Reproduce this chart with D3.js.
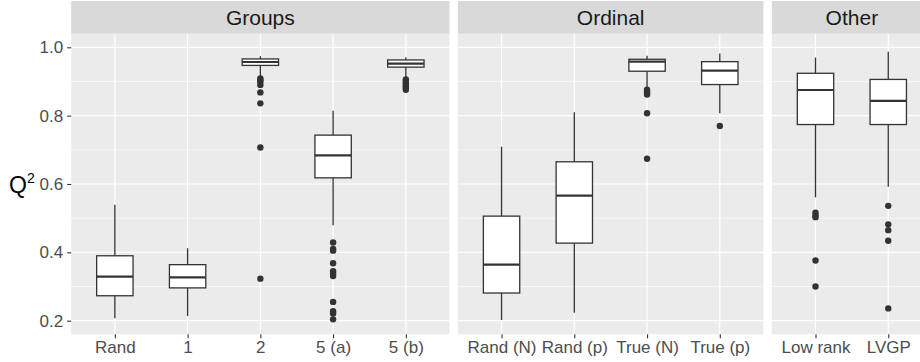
<!DOCTYPE html>
<html>
<head>
<meta charset="utf-8">
<script src="https://cdn.jsdelivr.net/npm/d3@7"></script>
<style>
  html, body { margin: 0; padding: 0; background: #ffffff; }
  svg { display: block; }
  text { font-family: "Liberation Sans", Arial, Helvetica, sans-serif; }
</style>
</head>
<body>
<svg id="chart" width="920" height="362"></svg>
<script>
// Facet panels and the categories inside each one
const panels = ["Groups", "Ordinal", "Other"];
const categories = ["Rand", "1", "2", "5 (a)", "5 (b)",
                    "Rand (N)", "Rand (p)", "True (N)", "True (p)",
                    "Low rank", "LVGP"];
const panelOf = ["Groups", "Groups", "Groups", "Groups", "Groups",
                 "Ordinal", "Ordinal", "Ordinal", "Ordinal",
                 "Other", "Other"];

// Box-plot summaries of Q^2 for each category
const whiskerLow  = [0.207, 0.214, 0.915, 0.479, 0.912, 0.202, 0.223, 0.882, 0.807, 0.561, 0.592];
const q1          = [0.273, 0.296, 0.947, 0.618, 0.942, 0.281, 0.427, 0.930, 0.891, 0.774, 0.774];
const median      = [0.329, 0.327, 0.957, 0.684, 0.952, 0.364, 0.566, 0.958, 0.932, 0.875, 0.843];
const q3          = [0.390, 0.364, 0.966, 0.743, 0.963, 0.506, 0.665, 0.965, 0.958, 0.924, 0.906];
const whiskerHigh = [0.539, 0.412, 0.974, 0.814, 0.971, 0.709, 0.810, 0.975, 0.982, 0.970, 0.987];
const outliers = [
  [],
  [],
  [0.909, 0.904, 0.899, 0.890, 0.868, 0.836, 0.707, 0.323],
  [0.429, 0.410, 0.405, 0.368, 0.345, 0.338, 0.331, 0.255, 0.228, 0.221, 0.204],
  [0.906, 0.900, 0.895, 0.890, 0.885, 0.880, 0.876],
  [],
  [],
  [0.876, 0.871, 0.866, 0.862, 0.807, 0.674],
  [0.770],
  [0.516, 0.508, 0.503, 0.376, 0.300],
  [0.536, 0.482, 0.465, 0.434, 0.236]
];

const yTicks = [0.2, 0.4, 0.6, 0.8, 1.0];
const yMinor = [0.3, 0.5, 0.7, 0.9];

// Layout
const W = 920, H = 362;
const panelTop = 33.7, panelBottom = 334.3;
const stripTop = 1;
const firstLeft = 71.2;
const step = 72.75;      // distance between neighbouring categories
const expand = 0.6;      // discrete-axis padding, in category steps
const gap = 8.4;         // space between facet panels

const svg = d3.select("#chart");

const y = d3.scaleLinear().domain([0.2, 1.0]).range([320.7, 47.3]);

// Build one x scale per panel, widths proportional to category count
let left = firstLeft;
const panelInfo = panels.map(p => {
  const cats = categories.filter((c, i) => panelOf[i] === p);
  const width = (cats.length - 1 + 2 * expand) * step;
  const x = d3.scalePoint().domain(cats).range([left, left + width]).padding(expand);
  const info = { name: p, cats, left, width, x };
  left += width + gap;
  return info;
});

const lineCol = "#333333";

panelInfo.forEach(pi => {
  const visW = Math.min(pi.width, W - pi.left);
  const g = svg.append("g");

  // panel background
  g.append("rect")
    .attr("x", pi.left).attr("y", panelTop)
    .attr("width", visW).attr("height", panelBottom - panelTop)
    .attr("fill", "#EBEBEB");

  // minor horizontal grid
  g.selectAll(".minor").data(yMinor).enter().append("line")
    .attr("x1", pi.left).attr("x2", pi.left + visW)
    .attr("y1", d => y(d)).attr("y2", d => y(d))
    .attr("stroke", "#ffffff").attr("stroke-width", 0.6);

  // major horizontal grid
  g.selectAll(".major").data(yTicks).enter().append("line")
    .attr("x1", pi.left).attr("x2", pi.left + visW)
    .attr("y1", d => y(d)).attr("y2", d => y(d))
    .attr("stroke", "#ffffff").attr("stroke-width", 1.2);

  // vertical grid at categories
  g.selectAll(".vgrid").data(pi.cats).enter().append("line")
    .attr("x1", d => pi.x(d)).attr("x2", d => pi.x(d))
    .attr("y1", panelTop).attr("y2", panelBottom)
    .attr("stroke", "#ffffff").attr("stroke-width", 1.2);

  // strip
  g.append("rect")
    .attr("x", pi.left).attr("y", stripTop)
    .attr("width", visW).attr("height", panelTop - stripTop)
    .attr("fill", "#D9D9D9");
  g.append("text")
    .attr("x", pi.left + pi.width / 2)
    .attr("y", (stripTop + panelTop) / 2)
    .attr("dy", "0.36em")
    .attr("text-anchor", "middle")
    .attr("font-size", 21)
    .attr("fill", "#1A1A1A")
    .text(pi.name);

  // x axis ticks and labels
  const xAxis = d3.axisBottom(pi.x).tickSize(4).tickPadding(3);
  const ax = g.append("g")
    .attr("transform", `translate(0,${panelBottom})`)
    .call(xAxis);
  ax.select(".domain").remove();
  ax.selectAll(".tick line").attr("stroke", lineCol).attr("stroke-width", 1.1);
  ax.selectAll(".tick text")
    .attr("font-size", 17)
    .attr("fill", "#4D4D4D")
    .attr("font-family", "Liberation Sans, Arial, sans-serif");

  // boxes
  const half = step * 0.25;
  pi.cats.forEach(c => {
    const i = categories.indexOf(c);
    const cx = pi.x(c);
    const bg = g.append("g");
    bg.append("line")
      .attr("x1", cx).attr("x2", cx)
      .attr("y1", y(whiskerHigh[i])).attr("y2", y(q3[i]))
      .attr("stroke", lineCol).attr("stroke-width", 1.3);
    bg.append("line")
      .attr("x1", cx).attr("x2", cx)
      .attr("y1", y(q1[i])).attr("y2", y(whiskerLow[i]))
      .attr("stroke", lineCol).attr("stroke-width", 1.3);
    bg.append("rect")
      .attr("x", cx - half).attr("width", 2 * half)
      .attr("y", y(q3[i])).attr("height", y(q1[i]) - y(q3[i]))
      .attr("fill", "#ffffff").attr("stroke", lineCol).attr("stroke-width", 1.3);
    bg.append("line")
      .attr("x1", cx - half).attr("x2", cx + half)
      .attr("y1", y(median[i])).attr("y2", y(median[i]))
      .attr("stroke", lineCol).attr("stroke-width", 2.2);
    bg.selectAll("circle").data(outliers[i]).enter().append("circle")
      .attr("cx", cx).attr("cy", d => y(d)).attr("r", 3.2)
      .attr("fill", lineCol);
  });
});

// y axis on the first panel
const yAxis = d3.axisLeft(y).tickValues(yTicks).tickFormat(d3.format(".1f"))
  .tickSize(4).tickPadding(4);
const yg = svg.append("g")
  .attr("transform", `translate(${firstLeft},0)`)
  .call(yAxis);
yg.select(".domain").remove();
yg.selectAll(".tick line").attr("stroke", lineCol).attr("stroke-width", 1.1);
yg.selectAll(".tick text")
  .attr("font-size", 17)
  .attr("fill", "#4D4D4D")
  .attr("font-family", "Liberation Sans, Arial, sans-serif");

// y axis title: Q squared
const title = svg.append("text")
  .attr("x", 9).attr("y", 193)
  .attr("font-size", 23)
  .attr("fill", "#000000");
title.append("tspan").text("Q");
title.append("tspan").attr("font-size", 14).attr("dy", -10).text("2");
</script>
</body>
</html>
